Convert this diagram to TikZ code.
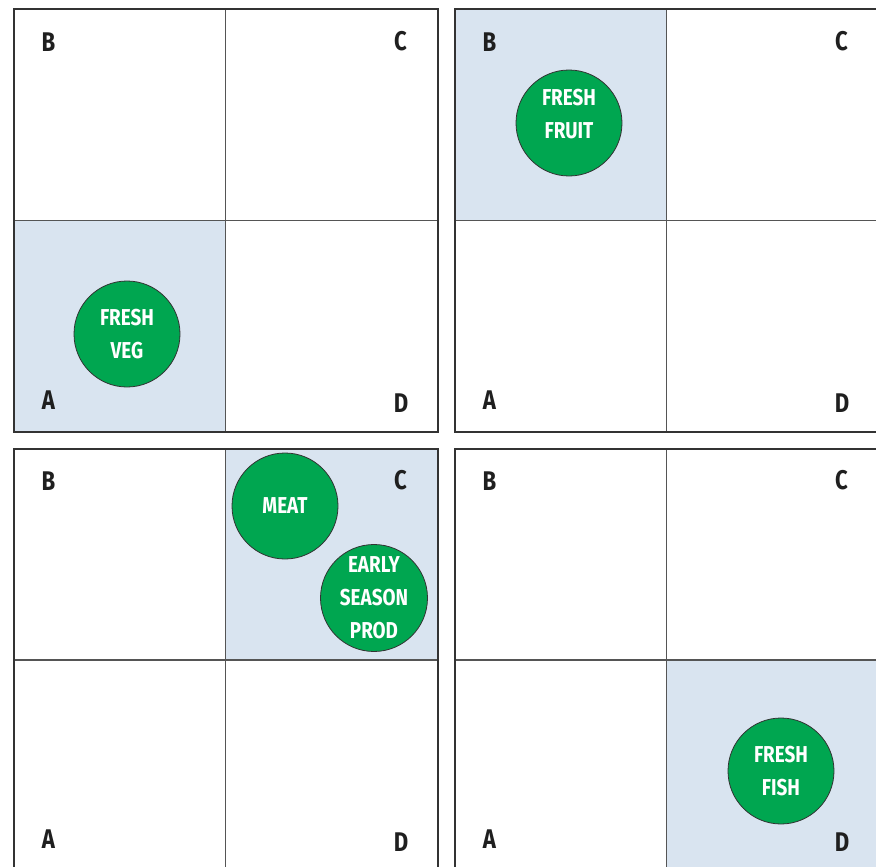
\documentclass[tikz,border=0pt]{standalone}
\usepackage{fontspec}
\setmainfont{Fira Sans}[FakeStretch=0.82]
\definecolor{cellblue}{HTML}{D9E4F0}
\definecolor{dotgreen}{HTML}{00A650}
\definecolor{frame}{HTML}{333333}
\definecolor{divider}{HTML}{555555}
\begin{document}
\begin{tikzpicture}[x=1pt,y=-1pt,
  letter/.style={font=\fontsize{27}{30}\selectfont\bfseries, text=black!88},
  dot/.style={circle, draw=black!80, line width=0.8pt, fill=dotgreen, minimum size=106pt, inner sep=0pt,
    text=white, align=center, font=\fontsize{23}{33}\selectfont\bfseries},
  outer/.style={draw=frame, line width=2pt},
  inner/.style={draw=divider, line width=1.2pt}]
\useasboundingbox (0,0) rectangle (876,867);
\clip (0,0) rectangle (876,867);
% highlighted cells
\fill[cellblue] (13.5,220.5) rectangle (225.5,432);
\fill[cellblue] (454.5,9) rectangle (665.5,220.5);
\fill[cellblue] (225.5,448.5) rectangle (438,659.5);
\fill[cellblue] (665.5,659.5) rectangle (879,871);
% panels
\foreach \px/\py [count=\i] in {13.5/9, 454.5/9, 13.5/448.5, 454.5/448.5}{
  \draw[inner] (\px+212,\py) -- (\px+212,\py+423);
  \draw[inner] (\px,\py+211.5) -- (\px+424.5,\py+211.5);
  \draw[outer] (\px,\py) rectangle (\px+424.5,\py+423);
  \node[letter] (b\i) at (\px+35,\py+33) {B};
  \node[letter] (c\i) at (\px+387,\py+32) {C};
  \node[letter] (a\i) at (\px+35,\py+391) {A};
  \node[letter] (d\i) at (\px+387.5,\py+394) {D};
}
% circles
\node[dot] (veg) at (127,334) {FRESH\\VEG};
\node[dot] (fruit) at (569,123) {};
\node[text=white, align=center, font=\fontsize{23}{33}\selectfont\bfseries] (fruittext) at (569,114.5) {FRESH\\FRUIT};
\node[dot] (meat) at (285,506) {MEAT};
\node[dot] (early) at (374,598) {EARLY\\SEASON\\PROD};
\node[dot] (fish) at (781,771) {FRESH\\FISH};
\end{tikzpicture}
\end{document}
